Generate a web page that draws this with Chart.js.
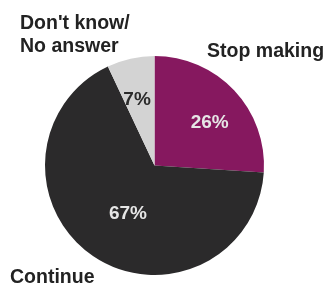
<!DOCTYPE html>
<html>
<head>
<meta charset="utf-8">
<script src="https://cdn.jsdelivr.net/npm/chart.js@4.4.1/dist/chart.umd.min.js"></script>
<style>
html,body{margin:0;padding:0;background:#fff;}
#wrap{width:329px;height:286px;position:relative;}
</style>
</head>
<body>
<div id="wrap"><canvas id="c" width="329" height="286"></canvas></div>
<script>
const categories = ["Stop making", "Continue", "Don't know/\nNo answer"];
const values = [26, 67, 7];
const valueLabels = ["26%", "67%", "7%"];
const colors = ["#86185f", "#2b2a2b", "#d3d3d3"];
const valueLabelColors = ["#e6e6e6", "#e6e6e6", "#2b2b2b"];

const labelPlugin = {
  id: 'labels',
  afterDatasetsDraw(chart) {
    const ctx = chart.ctx;
    const meta = chart.getDatasetMeta(0);
    const arc0 = meta.data[0];
    const cx = arc0.x, cy = arc0.y, R = arc0.outerRadius;
    ctx.save();
    ctx.textAlign = 'center';
    ctx.textBaseline = 'middle';
    ctx.font = 'bold 19px "Liberation Sans", Arial, sans-serif';
    const radial = [0.64, 0.5, 0.62];
    const angShift = [0.09, -0.09, -0.04];
    meta.data.forEach((arc, i) => {
      const mid = (arc.startAngle + arc.endAngle) / 2 + angShift[i];
      const r = R * radial[i];
      ctx.fillStyle = valueLabelColors[i];
      ctx.fillText(valueLabels[i], cx + Math.cos(mid) * r, cy + Math.sin(mid) * r);
    });
    // category labels
    ctx.fillStyle = '#222';
    ctx.textAlign = 'left';
    ctx.textBaseline = 'alphabetic';
    ctx.font = 'bold 19.5px "Liberation Sans", Arial, sans-serif';
    ctx.fillText(categories[0], cx + R * 0.48, cy - R * 0.995);
    ctx.fillText(categories[1], 10, 283);
    const dk = categories[2].split('\n');
    ctx.fillText(dk[0], 20, 29);
    ctx.fillText(dk[1], 20, 52);
    ctx.restore();
  }
};

new Chart(document.getElementById('c'), {
  type: 'pie',
  data: {
    labels: categories,
    datasets: [{
      data: values,
      backgroundColor: colors,
      borderWidth: 0
    }]
  },
  options: {
    responsive: false,
    animation: false,
    layout: { padding: { top: 56, bottom: 11, left: 45, right: 65 } },
    plugins: { legend: { display: false }, tooltip: { enabled: false } }
  },
  plugins: [labelPlugin]
});
</script>
</body>
</html>
